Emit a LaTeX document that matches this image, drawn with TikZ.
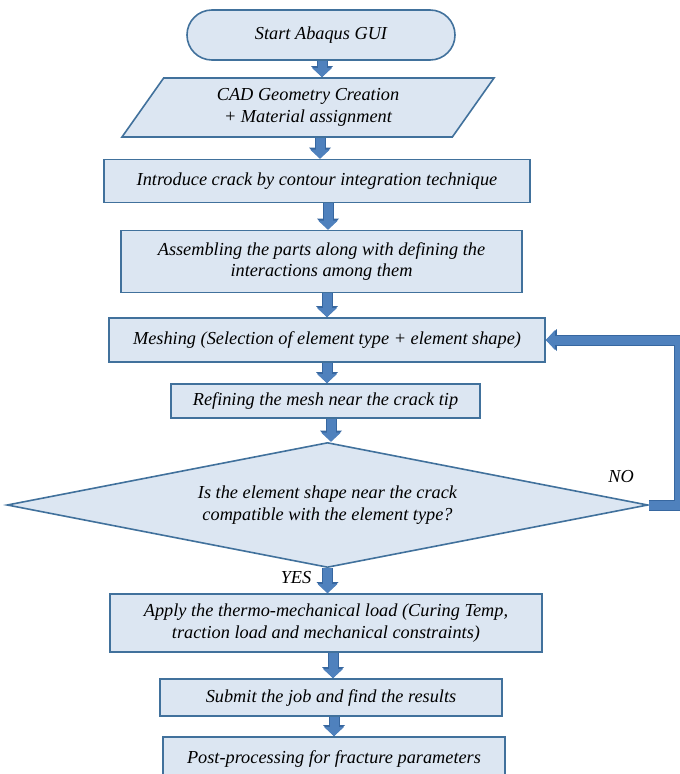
\documentclass[tikz,border=0pt]{standalone}
\usepackage{fontspec}
\setmainfont{Liberation Serif}
\usetikzlibrary{shapes.geometric,arrows.meta}

\definecolor{boxfill}{HTML}{DCE6F2}
\definecolor{boxline}{HTML}{41719C}
\definecolor{arrowfill}{HTML}{4F81BD}
\definecolor{arrowline}{HTML}{3767A0}

\tikzset{
  every node/.style={font=\fontsize{18.3}{21.5}\selectfont\itshape},
  stepbox/.style={rectangle, draw=boxline, fill=boxfill, line width=1.6pt,
    align=center, inner sep=0pt},
  startbox/.style={stepbox, rounded corners=24.9pt, minimum width=268pt,
    minimum height=50pt},
  iobox/.style={stepbox, trapezium, trapezium left angle=42,
    trapezium right angle=138, trapezium stretches body,
    minimum width=372pt, minimum height=59pt},
  decision/.style={stepbox, diamond, aspect=5.13, minimum width=641pt,
    minimum height=125pt},
  flowarrow/.style={draw=arrowfill, line width=9pt, line join=miter,
    -{Triangle[width=19.5pt,length=9pt,line width=0pt]},
    preaction={draw=arrowline, line width=11pt, line join=miter,
      -{Triangle[width=22pt,length=11pt,line width=0pt]}}}
}

\begin{document}
\begin{tikzpicture}[x=1pt,y=-1pt]
    \useasboundingbox (0,0) rectangle (680,774);

    % Steps of the analysis
    \node[startbox] (start) at (321,35) {Start Abaqus GUI};
    \node[iobox] (cad) at (308,107.5) {CAD Geometry Creation\\+ Material assignment};
    \node[stepbox, minimum width=426pt, minimum height=43pt] (crack) at (317,181)
        {Introduce crack by contour integration technique};
    \node[stepbox, minimum width=401pt, minimum height=62pt] (assembly) at (321.5,261.5)
        {Assembling the parts along with defining the\\interactions among them};
    \node[stepbox, minimum width=436pt, minimum height=44pt] (mesh) at (327,340)
        {Meshing (Selection of element type + element shape)};
    \node[stepbox, minimum width=309pt, minimum height=34pt] (refine) at (325.5,401)
        {Refining the mesh near the crack tip};
    \node[decision] (check) at (327.5,505)
        {Is the element shape near the crack\\compatible with the element type?};
    \node[stepbox, minimum width=432pt, minimum height=58pt] (load) at (326,623)
        {Apply the thermo-mechanical load (Curing Temp,\\traction load and mechanical constraints)};
    \node[stepbox, minimum width=342pt, minimum height=37pt] (submit) at (331,697.5)
        {Submit the job and find the results};
    \node[stepbox, minimum width=342pt, minimum height=44pt] (post) at (334,759)
        {Post-processing for fracture parameters};

    % Branch labels
    \node (no) at (621,477) {NO};
    \node (yes) at (296,578) {YES};

    % Block arrows between the steps
    \draw[flowarrow] (start.south -| 322,0) -- (cad.north -| 322,0);
    \draw[flowarrow] (cad.south -| 320,0) -- (crack.north -| 320,0);
    \draw[flowarrow] (crack.south -| 328,0) -- (assembly.north -| 328,0);
    \draw[flowarrow] (assembly.south -| 327,0) -- (mesh.north -| 327,0);
    \draw[flowarrow] (mesh.south -| 327,0) -- (refine.north -| 327,0);
    \draw[flowarrow] (refine.south -| 331,0) -- (check.north -| 331,0);
    \draw[flowarrow] (check.south) -- (load.north -| check.south);
    \draw[flowarrow] (load.south -| 333,0) -- (submit.north -| 333,0);
    \draw[flowarrow] (submit.south -| 334,0) -- (post.north -| 334,0);

    % NO: back to meshing
    \draw[flowarrow] (check.east) -- ++(31,0) |- (mesh.east);
\end{tikzpicture}
\end{document}
